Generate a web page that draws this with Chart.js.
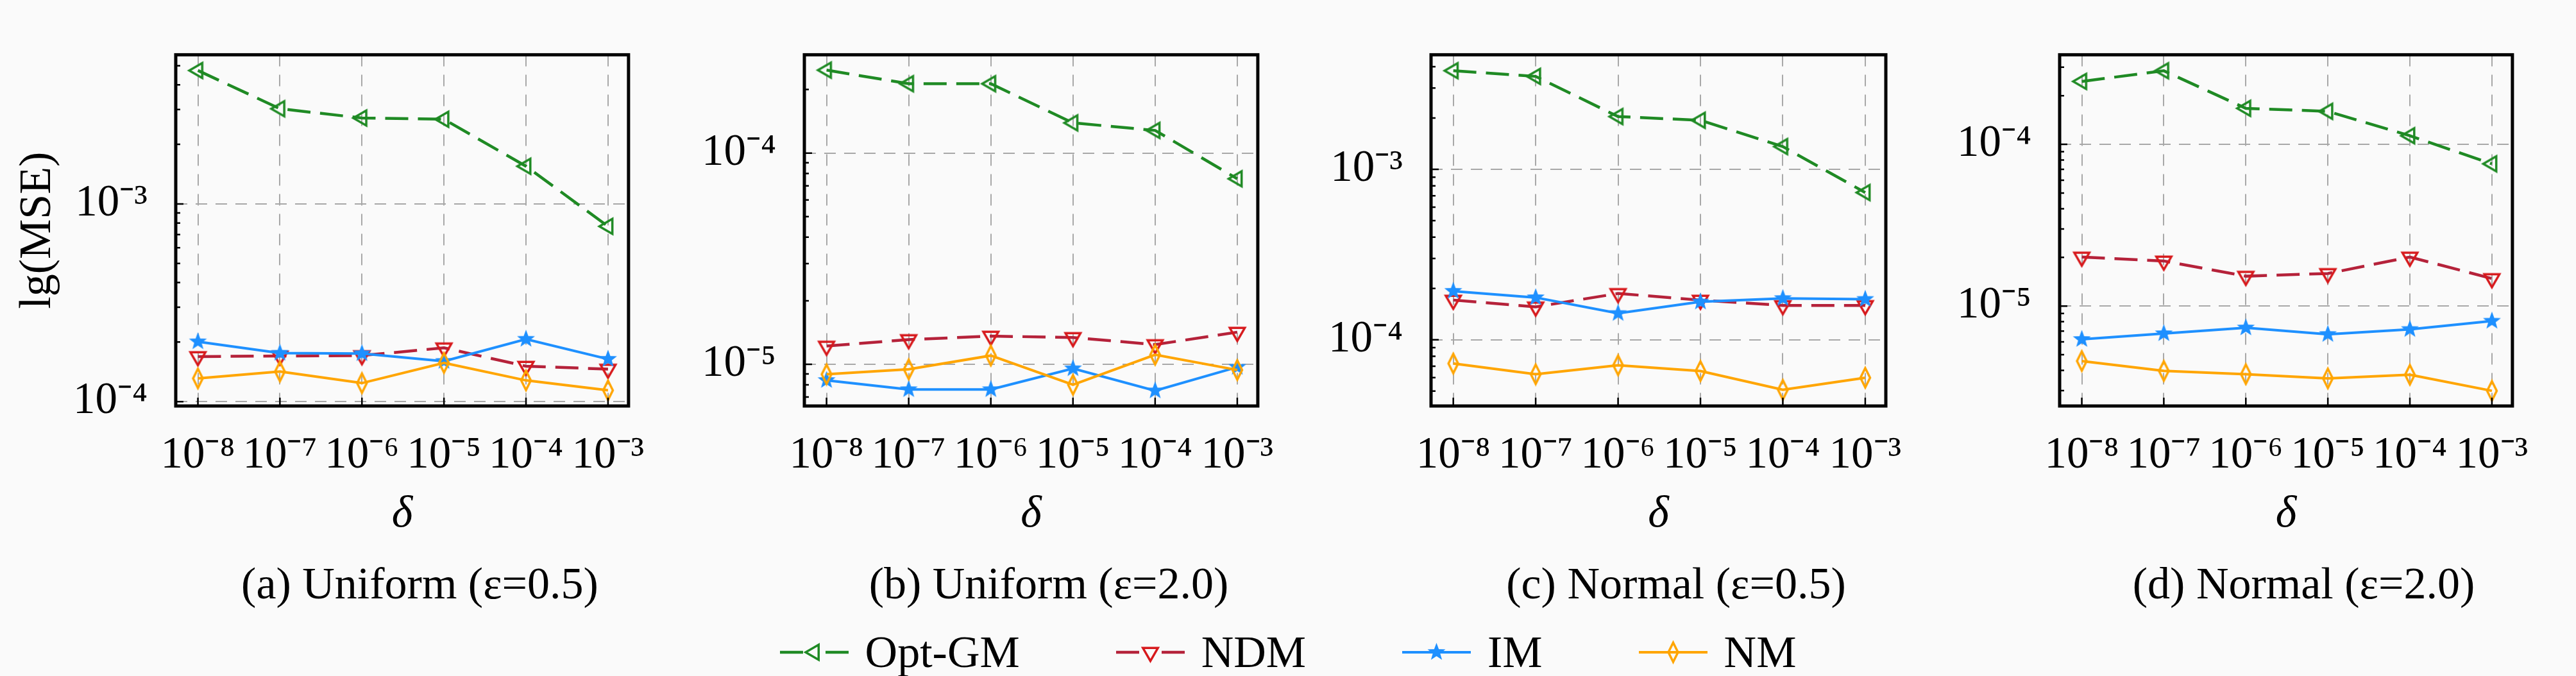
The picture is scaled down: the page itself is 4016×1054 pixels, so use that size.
<!DOCTYPE html>
<html>
<head>
<meta charset="utf-8">
<script src="https://cdn.jsdelivr.net/npm/chart.js@4.4.1/dist/chart.umd.min.js"></script>
<style>
html, body { margin: 0; padding: 0; background: #fafafa; }
body { width: 4016px; height: 1054px; position: relative; overflow: hidden; font-family: 'Liberation Serif', serif; color: #000; }
.panel { position: absolute; top: 0; }
.caption { position: absolute; top: 860px; height: 100px; line-height: 100px; font-size: 70px; text-align: center; white-space: nowrap; }
#legend { position: absolute; left: 0; width: 4016px; top: 967px; height: 100px; display: flex; justify-content: center; align-items: center; gap: 150px; font-size: 70px; }
.item { display: flex; align-items: center; }
.item canvas { margin-right: 26px; }
</style>
</head>
<body>
<div id="legend"></div>
<script>
// x axis: delta = 10^exp
const deltaExp = [-8, -7, -6, -5, -4, -3];
const methods = ['Opt-GM', 'NDM', 'IM', 'NM'];
const captions = ['(a) Uniform (ε=0.5)', '(b) Uniform (ε=2.0)', '(c) Normal (ε=0.5)', '(d) Normal (ε=2.0)'];

// (a) Uniform eps=0.5
const uni05OptGM = [4.73e-3, 3.03e-3, 2.72e-3, 2.68e-3, 1.55e-3, 7.7e-4];
const uni05NDM   = [1.69e-4, 1.70e-4, 1.71e-4, 1.87e-4, 1.51e-4, 1.46e-4];
const uni05IM    = [2.01e-4, 1.76e-4, 1.75e-4, 1.60e-4, 2.07e-4, 1.64e-4];
const uni05NM    = [1.31e-4, 1.42e-4, 1.24e-4, 1.57e-4, 1.28e-4, 1.14e-4];
// (b) Uniform eps=2.0
const uni20OptGM = [2.47e-4, 2.13e-4, 2.13e-4, 1.39e-4, 1.28e-4, 7.56e-5];
const uni20NDM   = [1.22e-5, 1.31e-5, 1.36e-5, 1.34e-5, 1.24e-5, 1.42e-5];
const uni20IM    = [8.4e-6, 7.6e-6, 7.6e-6, 9.55e-6, 7.5e-6, 9.7e-6];
const uni20NM    = [8.97e-6, 9.47e-6, 1.10e-5, 8.0e-6, 1.11e-5, 9.4e-6];
// (c) Normal eps=0.5
const nor05OptGM = [3.79e-3, 3.51e-3, 2.04e-3, 1.94e-3, 1.36e-3, 7.31e-4];
const nor05NDM   = [1.71e-4, 1.56e-4, 1.87e-4, 1.71e-4, 1.59e-4, 1.59e-4];
const nor05IM    = [1.93e-4, 1.77e-4, 1.43e-4, 1.67e-4, 1.75e-4, 1.73e-4];
const nor05NM    = [7.26e-5, 6.28e-5, 7.09e-5, 6.56e-5, 5.09e-5, 5.99e-5];
// (d) Normal eps=2.0
const nor20OptGM = [2.45e-4, 2.85e-4, 1.67e-4, 1.60e-4, 1.13e-4, 7.58e-5];
const nor20NDM   = [2.01e-5, 1.90e-5, 1.53e-5, 1.59e-5, 2.01e-5, 1.48e-5];
const nor20IM    = [6.23e-6, 6.76e-6, 7.34e-6, 6.69e-6, 7.18e-6, 8.08e-6];
const nor20NM    = [4.57e-6, 3.97e-6, 3.79e-6, 3.57e-6, 3.76e-6, 2.99e-6];

// y axis ranges per panel
const yMins = [9.5e-5, 6.35e-6, 4.09e-5, 2.41e-6];
const yMaxs = [5.68e-3, 2.92e-4, 4.70e-3, 3.58e-4];

const panelData = [
  [uni05OptGM, uni05NDM, uni05IM, uni05NM],
  [uni20OptGM, uni20NDM, uni20IM, uni20NM],
  [nor05OptGM, nor05NDM, nor05IM, nor05NM],
  [nor20OptGM, nor20NDM, nor20IM, nor20NM]
];

// layout
const plotLefts = [274, 1254, 2231, 3211];
const plotRights = [1035, 2016, 2995, 3972];
const plotBottom = 633;
const canvasH = 850;
const yAxisW = 274;
const FONT = 'Liberation Serif';

const colors = {
  'Opt-GM': { line: '#1f8a24', mark: '#1f8a24', dash: [36, 15], width: 4.5, marker: 'triLeft' },
  'NDM':    { line: '#b5223a', mark: '#d7191c', dash: [36, 15], width: 4.5, marker: 'triDown' },
  'IM':     { line: '#1e90ff', mark: '#1e90ff', dash: [], width: 4, marker: 'star' },
  'NM':     { line: '#ffa500', mark: '#ffa500', dash: [], width: 4, marker: 'thinDiamond' }
};

Chart.defaults.font.family = FONT;
Chart.defaults.color = '#000';

const SUP = { '-': '⁻', '0': '⁰', '1': '¹', '2': '²', '3': '³', '4': '⁴', '5': '⁵', '6': '⁶', '7': '⁷', '8': '⁸', '9': '⁹' };
function pow10Label(e) {
  return '10' + String(e).split('').map(ch => SUP[ch]).join('');
}
function isPow10(v) {
  const l = Math.log10(v);
  return Math.abs(l - Math.round(l)) < 1e-9;
}

// marker images
function drawMarker(g, kind, color) {
  g.strokeStyle = color;
  g.fillStyle = color;
  g.setLineDash([]);
  if (kind === 'triLeft' || kind === 'triDown') {
    g.save();
    g.rotate(kind === 'triLeft' ? -Math.PI / 2 : Math.PI);
    const r = 13.5;
    g.beginPath();
    for (let k = 0; k < 3; k++) {
      const a = -Math.PI / 2 + k * 2 * Math.PI / 3;
      g.lineTo(r * Math.cos(a), r * Math.sin(a));
    }
    g.closePath();
    g.lineWidth = 3.5;
    g.stroke();
    g.restore();
  } else if (kind === 'star') {
    const ro = 12.5, ri = 5.2;
    g.beginPath();
    for (let k = 0; k < 10; k++) {
      const r = k % 2 ? ri : ro;
      const a = -Math.PI / 2 + k * Math.PI / 5;
      g.lineTo(r * Math.cos(a), r * Math.sin(a));
    }
    g.closePath();
    g.fill();
    g.lineWidth = 1.5;
    g.stroke();
  } else {
    g.beginPath();
    g.moveTo(0, -15); g.lineTo(7.5, 0); g.lineTo(0, 15); g.lineTo(-7.5, 0);
    g.closePath();
    g.lineWidth = 3.5;
    g.stroke();
  }
}
function markerCanvas(kind, color) {
  const c = document.createElement('canvas');
  c.width = 38; c.height = 38;
  const g = c.getContext('2d');
  g.translate(19, 19);
  drawMarker(g, kind, color);
  return c;
}
const markers = {};
methods.forEach(m => { markers[m] = markerCanvas(colors[m].marker, colors[m].mark); });

// frame box and inward tick marks
const frameTicks = {
  id: 'frameTicks',
  afterDraw(chart) {
    const { ctx, chartArea: a, scales: { x, y } } = chart;
    ctx.save();
    ctx.strokeStyle = '#000';
    ctx.lineWidth = 2.5;
    ctx.beginPath();
    x.ticks.forEach(t => {
      const px = x.getPixelForValue(t.value);
      ctx.moveTo(px, a.bottom);
      ctx.lineTo(px, a.bottom - 13);
    });
    y.ticks.forEach(t => {
      const py = y.getPixelForValue(t.value);
      const len = isPow10(t.value) ? 12 : 7;
      ctx.moveTo(a.left, py);
      ctx.lineTo(a.left + len, py);
    });
    ctx.stroke();
    ctx.lineWidth = 5;
    ctx.strokeRect(a.left, a.top, a.right - a.left, a.bottom - a.top);
    ctx.restore();
  }
};

function makePanel(i) {
  const plotW = plotRights[i] - plotLefts[i];
  const wrap = document.createElement('div');
  wrap.className = 'panel';
  wrap.style.left = (plotLefts[i] - yAxisW) + 'px';
  const cv = document.createElement('canvas');
  cv.width = yAxisW + plotW + 6;
  cv.height = canvasH;
  cv.style.width = cv.width + 'px';
  cv.style.height = canvasH + 'px';
  wrap.appendChild(cv);
  document.body.appendChild(wrap);

  const cap = document.createElement('div');
  cap.className = 'caption';
  cap.style.left = plotLefts[i] + 'px';
  cap.style.width = plotW + 'px';
  cap.textContent = captions[i];
  document.body.appendChild(cap);

  const datasets = methods.map((m, k) => ({
    label: m,
    data: deltaExp.map((e, j) => ({ x: e, y: panelData[i][k][j] })),
    borderColor: colors[m].line,
    borderWidth: colors[m].width,
    borderDash: colors[m].dash,
    pointStyle: markers[m],
    pointRadius: 12,
    tension: 0,
    fill: false,
    clip: false,
    order: methods.length - k
  }));

  new Chart(cv, {
    type: 'line',
    data: { datasets },
    plugins: [frameTicks],
    options: {
      responsive: false,
      animation: false,
      events: [],
      layout: { padding: { top: 5, right: 6, left: 0, bottom: 0 } },
      plugins: { legend: { display: false }, tooltip: { enabled: false } },
      scales: {
        x: {
          type: 'linear',
          min: -8.27,
          max: -2.75,
          afterBuildTicks: s => { s.ticks = deltaExp.map(v => ({ value: v })); },
          afterFit: s => { s.height = canvasH - plotBottom; },
          grid: { color: '#a8a8a8', lineWidth: 2, drawTicks: false },
          border: { display: false, dash: [18, 13] },
          ticks: {
            autoSkip: false, maxRotation: 0, minRotation: 0, padding: 36,
            font: { size: 69 },
            callback: v => pow10Label(v)
          },
          title: {
            display: true, text: 'δ',
            font: { size: 70, style: 'italic' },
            padding: { top: 0, bottom: 5 }
          }
        },
        y: {
          type: 'logarithmic',
          min: yMins[i],
          max: yMaxs[i],
          afterBuildTicks: s => {
            const t = [];
            for (let e = Math.floor(Math.log10(yMins[i])); e <= Math.ceil(Math.log10(yMaxs[i])); e++) {
              for (let m = 1; m <= 9; m++) {
                const v = m * Math.pow(10, e);
                if (v >= yMins[i] && v <= yMaxs[i]) t.push({ value: v });
              }
            }
            s.ticks = t;
          },
          afterFit: s => { s.width = yAxisW; },
          grid: {
            color: ctx => (ctx.tick && isPow10(ctx.tick.value)) ? '#a8a8a8' : 'rgba(0,0,0,0)',
            lineWidth: 2, drawTicks: false
          },
          border: { display: false, dash: [18, 13] },
          ticks: {
            autoSkip: false, padding: 44,
            font: { size: 69 },
            callback: v => isPow10(v) ? pow10Label(Math.round(Math.log10(v))) : ''
          },
          title: {
            display: i === 0, text: 'lg(MSE)',
            font: { size: 70 },
            padding: { top: 18, bottom: 0 }
          }
        }
      }
    }
  });
}

[0, 1, 2, 3].forEach(makePanel);

// legend
const legend = document.getElementById('legend');
methods.forEach(m => {
  const item = document.createElement('div');
  item.className = 'item';
  const c = document.createElement('canvas');
  c.width = 107; c.height = 40;
  const g = c.getContext('2d');
  g.strokeStyle = colors[m].line;
  g.lineWidth = colors[m].width;
  g.setLineDash(colors[m].dash.length ? [36, 35] : []);
  g.beginPath();
  g.moveTo(0, 20); g.lineTo(107, 20);
  g.stroke();
  g.translate(53.5, 20);
  drawMarker(g, colors[m].marker, colors[m].mark);
  item.appendChild(c);
  const s = document.createElement('span');
  s.textContent = m;
  item.appendChild(s);
  legend.appendChild(item);
});
</script>
</body>
</html>
